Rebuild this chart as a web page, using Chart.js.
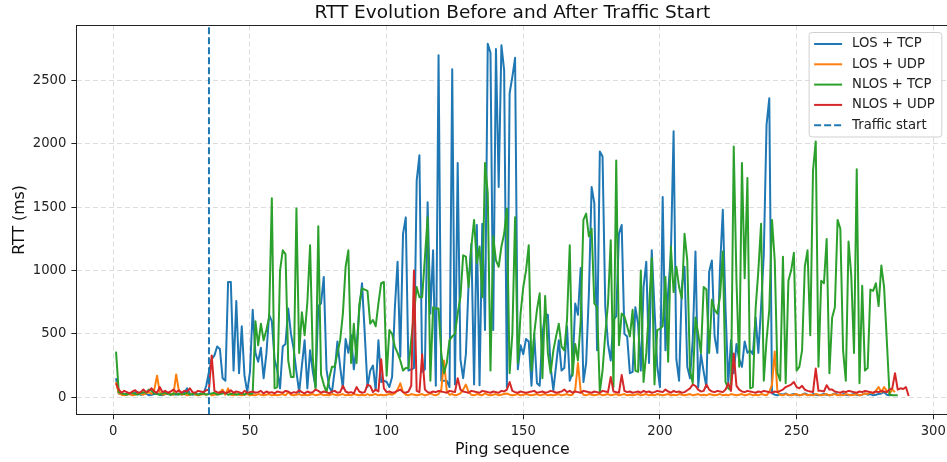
<!DOCTYPE html>
<html>
<head>
<meta charset="utf-8">
<title>RTT Evolution</title>
<script src="https://cdn.jsdelivr.net/npm/chart.js@4.4.1/dist/chart.umd.min.js"></script>
<style>
  html, body { margin: 0; padding: 0; background: #ffffff; }
  #wrap { width: 947px; height: 462px; overflow: hidden; }
</style>
</head>
<body>
<div id="wrap"><canvas id="rttChart" width="952" height="462"></canvas></div>
<script>
// Axis ticks and the ping where traffic was switched on
const xTicks = [0, 50, 100, 150, 200, 250, 300];
const yTicks = [0, 500, 1000, 1500, 2000, 2500];
const trafficStart = 35;

// RTT per ping (ms), ping sequence starts at 1
const losTcp = [
  150, 30, 25, 20, 30, 25, 20, 35, 40, 20,
  25, 30, 15, 20, 25, 30, 20, 15, 25, 30,
  20, 25, 20, 30, 20, 35, 70, 30, 20, 25,
  20, 30, 25, 90, 200, 300, 330, 400, 380, 150,
  130, 910, 910, 210, 760, 190, 560, 170, 40, 200,
  690, 350, 280, 390, 150, 340, 650, 600, 300, 210,
  70, 400, 420, 700, 500, 380, 200, 40, 250, 450,
  70, 370, 200, 80, 720, 740, 950, 220, 80, 40,
  210, 440, 240, 70, 460, 350, 490, 220, 400, 690,
  900, 500, 80, 210, 250, 55, 450, 120, 130, 120,
  80, 160, 700, 1070, 320, 1290, 1420, 210, 220, 230,
  1710, 1910, 200, 220, 1540, 660, 1160, 90, 2700, 130,
  130, 130, 80, 2590, 100, 1850, 300, 150, 340, 900,
  1210, 100, 1360, 95, 1370, 530, 2790, 2720, 530, 2750,
  1660, 2780, 2580, 80, 2400, 2530, 2680, 220, 410, 340,
  460, 440, 90, 500, 110, 90, 500, 660, 650, 240,
  55, 250, 450, 210, 230, 560, 130, 190, 740, 650,
  1020, 120, 270, 820, 1660, 1530, 370, 1940, 1900, 710,
  420, 290, 610, 640, 1290, 1360, 500, 480, 190, 200,
  710, 580, 210, 870, 1070, 270, 1160, 700, 250, 80,
  1580, 370, 830, 1130, 2100, 300, 130, 870, 1030, 240,
  150, 450, 1150, 80, 340, 200, 80, 990, 1080, 480,
  350, 1030, 1480, 690, 110, 450, 190, 420, 300, 240,
  440, 350, 370, 340, 630, 350, 710, 1130, 2150, 2360,
  30, 20, 15, 25, 20, 30, 15, 20, 25, 20,
  15, 20, 30, 20, 15, 25, 20, 15, 20, 25,
  20, 15, 20, 30, 20, 15, 25, 20, 15, 20,
  25, 20, 15, 20, 30, 20, 25, 15, 20, 25,
  30, 40, 20, 15, 20
];

const losUdp = [
  120, 30, 20, 15, 20, 25, 15, 20, 30, 25,
  20, 30, 40, 25, 60, 170, 40, 20, 25, 30,
  25, 20, 180, 50, 20, 25, 15, 20, 30, 20,
  15, 20, 25, 20, 30, 15, 20, 25, 40, 60,
  20, 70, 20, 15, 25, 20, 15, 20, 25, 15,
  20, 15, 25, 20, 15, 20, 25, 15, 20, 15,
  20, 25, 15, 40, 20, 15, 20, 25, 15, 20,
  15, 20, 25, 15, 20, 25, 15, 20, 15, 25,
  20, 15, 20, 25, 15, 20, 15, 25, 20, 15,
  20, 15, 25, 15, 20, 25, 15, 20, 15, 20,
  25, 20, 30, 60, 110, 40, 20, 15, 25, 20,
  15, 20, 25, 15, 20, 30, 20, 15, 25, 60,
  290, 50, 20, 25, 15, 20, 30, 60, 100, 40,
  20, 15, 25, 20, 15, 30, 20, 15, 20, 25,
  15, 20, 25, 30, 20, 15, 20, 25, 15, 20,
  25, 20, 15, 20, 25, 15, 20, 25, 15, 20,
  15, 20, 25, 15, 20, 25, 15, 20, 60, 270,
  50, 20, 15, 25, 20, 15, 20, 25, 15, 20,
  25, 15, 20, 25, 15, 20, 25, 15, 20, 15,
  20, 25, 15, 20, 25, 15, 20, 15, 25, 20,
  15, 20, 25, 15, 20, 15, 25, 20, 15, 20,
  25, 15, 20, 25, 15, 20, 15, 25, 20, 15,
  20, 25, 15, 20, 15, 25, 20, 15, 20, 25,
  15, 20, 25, 15, 20, 15, 25, 20, 15, 40,
  100, 360, 40, 20, 15, 25, 20, 15, 20, 25,
  15, 20, 25, 15, 20, 15, 25, 20, 15, 20,
  25, 15, 20, 25, 15, 20, 15, 25, 20, 15,
  20, 25, 15, 20, 30, 25, 40, 30, 50, 80,
  40, 80, 50, 30, 60, 40
];

const nlosTcp = [
  360, 40, 30, 25, 20, 30, 35, 25, 20, 30,
  40, 35, 60, 50, 30, 25, 20, 30, 35, 25,
  20, 30, 25, 20, 30, 25, 35, 20, 25, 30,
  20, 25, 30, 20, 25, 30, 35, 20, 25, 30,
  35, 20, 25, 30, 20, 25, 30, 20, 35, 25,
  30, 600, 410, 580, 450, 530, 630, 1570, 70, 80,
  1000, 1160, 1130, 290, 160, 160, 1490, 350, 670, 490,
  750, 1200, 300, 70, 1350, 180, 100, 40, 150, 240,
  240, 350, 450, 660, 1030, 1160, 270, 580, 270, 730,
  860, 850, 840, 580, 610, 560, 740, 900, 910, 170,
  530, 500, 400, 350, 290, 210, 230, 230, 450, 660,
  870, 790, 790, 1100, 1420, 130, 710, 700, 700, 345,
  190, 270, 450, 480, 500, 660, 790, 1120, 1110, 870,
  1190, 1400, 1060, 1190, 790, 1850, 1610, 210, 1270, 1080,
  1030, 1190, 1290, 1490, 190, 500, 1420, 270, 660, 870,
  1000, 1200, 210, 500, 690, 820, 150, 800, 350, 190,
  370, 480, 580, 400, 370, 610, 1200, 170, 420, 290,
  600, 1400, 1450, 1270, 1330, 740, 710, 40, 210, 500,
  740, 1240, 80, 1870, 410, 660, 640, 560, 480, 690,
  210, 200, 1000, 120, 350, 700, 1100, 100, 530, 540,
  560, 950, 280, 1190, 830, 1030, 870, 780, 1290, 1080,
  210, 110, 630, 500, 350, 870, 850, 350, 770, 690,
  660, 800, 1150, 120, 70, 55, 1980, 920, 240, 1850,
  940, 1730, 70, 80, 700, 1000, 1370, 130, 450, 690,
  1400, 1080, 190, 130, 1110, 110, 920, 1000, 1140, 210,
  240, 370, 1030, 1160, 490, 1790, 2020, 240, 920, 900,
  1250, 190, 630, 710, 1400, 1330, 370, 130, 1230, 960,
  350, 1800, 110, 880, 210, 230, 850, 840, 900, 720,
  1040, 870, 450, 20, 15, 15, 15
];

const nlosUdp = [
  110, 60, 35, 50, 40, 30, 45, 55, 35, 40,
  60, 40, 50, 70, 45, 35, 80, 40, 50, 35,
  45, 60, 40, 55, 35, 50, 45, 70, 40, 35,
  50, 45, 40, 55, 60, 330, 50, 40, 35, 45,
  30, 40, 55, 35, 45, 40, 30, 50, 35, 40,
  45, 35, 40, 50, 30, 45, 35, 40, 30, 45,
  40, 35, 50, 45, 30, 40, 35, 55, 40, 30,
  45, 35, 40, 60, 50, 35, 45, 40, 30, 45,
  50, 35, 40, 90, 45, 35, 40, 30, 80, 45,
  35, 40, 100, 90, 40, 60, 45, 300, 70, 40,
  45, 35, 40, 50, 60, 40, 35, 45, 90, 1000,
  50, 40, 340, 60, 40, 35, 45, 40, 50, 45,
  40, 35, 50, 45, 40, 150, 60, 45, 40, 35,
  50, 45, 40, 35, 50, 45, 40, 35, 45, 40,
  35, 50, 45, 60, 120, 50, 40, 35, 45, 40,
  35, 40, 45, 50, 35, 40, 45, 35, 40, 50,
  45, 35, 40, 45, 60, 40, 50, 35, 45, 40,
  35, 50, 45, 40, 35, 45, 40, 35, 50, 45,
  40, 160, 45, 40, 35, 175, 50, 40, 45, 35,
  40, 45, 35, 50, 40, 45, 35, 40, 50, 45,
  40, 60, 45, 35, 50, 40, 45, 35, 40, 55,
  70, 100, 90, 60, 45, 50, 100, 60, 45, 40,
  50, 45, 40, 60, 110, 50, 345, 90, 60, 45,
  40, 50, 45, 40, 35, 45, 40, 50, 45, 40,
  35, 45, 40, 50, 60, 80, 90, 100, 120, 80,
  70, 90, 60, 50, 45, 40, 226, 50, 50, 45,
  95, 60, 60, 45, 40, 35, 45, 40, 50, 45,
  40, 35, 45, 40, 50, 45, 40, 35, 45, 40,
  50, 45, 40, 60, 70, 190, 60, 70, 65, 80,
  10
];

const xRange = [-13.5, 305.5];
const yRange = [-135, 2935];

const FONT = 'DejaVu Sans';

function toPoints(values) {
  return values.map((v, i) => ({ x: i + 1, y: v }));
}

function fixedTicks(values) {
  return function (axis) {
    axis.ticks = values.map(v => ({ value: v }));
  };
}

// top spine (left/bottom come from the axis borders)
const frame = {
  id: 'frame',
  afterDatasetsDraw(chart) {
    const { ctx, chartArea: a } = chart;
    ctx.save();
    ctx.strokeStyle = '#222';
    ctx.lineWidth = 1;
    ctx.beginPath();
    ctx.moveTo(a.left, a.top);
    ctx.lineTo(a.right + 10, a.top);
    ctx.stroke();
    ctx.restore();
  }
};

// boxed legend in the upper right corner of the plot
const innerLegend = {
  id: 'innerLegend',
  afterDraw(chart) {
    const { ctx, chartArea: a } = chart;
    const items = chart.data.datasets.map(ds => ({
      label: ds.label, color: ds.borderColor, dash: ds.borderDash || []
    }));
    ctx.save();
    ctx.font = '13.2px "' + FONT + '"';
    let textW = 0;
    items.forEach(it => { textW = Math.max(textW, ctx.measureText(it.label).width); });
    const rowH = 20.3;
    const w = textW + 50;
    const h = items.length * rowH + 3;
    const x = a.right - 6.5 - w;
    const y = a.top + 7;
    ctx.beginPath();
    ctx.roundRect(x, y, w, h, 3);
    ctx.fillStyle = 'rgba(255,255,255,0.8)';
    ctx.fill();
    ctx.strokeStyle = '#d0d0d0';
    ctx.lineWidth = 1;
    ctx.stroke();
    items.forEach((it, i) => {
      const cy = y + 11.5 + i * rowH;
      ctx.beginPath();
      ctx.setLineDash(it.dash);
      ctx.strokeStyle = it.color;
      ctx.lineWidth = 2;
      ctx.moveTo(x + 5, cy);
      ctx.lineTo(x + 33, cy);
      ctx.stroke();
      ctx.setLineDash([]);
      ctx.fillStyle = '#222';
      ctx.textBaseline = 'middle';
      ctx.textAlign = 'left';
      ctx.fillText(it.label, x + 43, cy);
    });
    ctx.restore();
  }
};

function series(label, values, color, order) {
  return {
    label: label,
    data: toPoints(values),
    borderColor: color,
    backgroundColor: color,
    borderWidth: 2,
    pointRadius: 0,
    tension: 0,
    borderJoinStyle: 'round',
    order: order
  };
}

const ctx = document.getElementById('rttChart').getContext('2d');
const rttChart = new Chart(ctx, {
  type: 'line',
  data: {
    datasets: [
      series('LOS + TCP', losTcp, '#1f77b4', 4),
      series('LOS + UDP', losUdp, '#ff7f0e', 3),
      series('NLOS + TCP', nlosTcp, '#2ca02c', 2),
      series('NLOS + UDP', nlosUdp, '#d62728', 1),
      {
        label: 'Traffic start',
        data: [{ x: trafficStart, y: yRange[0] }, { x: trafficStart, y: yRange[1] }],
        borderColor: '#1f77b4',
        borderWidth: 2,
        borderDash: [7, 3],
        pointRadius: 0,
        order: 0
      }
    ]
  },
  options: {
    responsive: false,
    animation: false,
    devicePixelRatio: 1,
    layout: { padding: { left: 0, right: 3.7, top: 0, bottom: 0 } },
    plugins: {
      legend: { display: false },
      tooltip: { enabled: false },
      title: {
        display: true,
        text: 'RTT Evolution Before and After Traffic Start',
        fullSize: false,
        color: '#111',
        font: { family: FONT, size: 18.5, weight: 'normal' },
        padding: { top: 2, bottom: 1.3 }
      }
    },
    scales: {
      x: {
        type: 'linear',
        min: xRange[0],
        max: xRange[1],
        afterBuildTicks: fixedTicks(xTicks),
        afterFit(scale) { scale.height = 47.7; },
        grid: {
          color: '#dcdcdc',
          lineWidth: 1,
          tickLength: 5,
          tickColor: '#222',
          tickWidth: 1
        },
        border: { display: true, color: '#222', width: 1, dash: [5, 3] },
        ticks: {
          color: '#222',
          padding: 4,
          maxRotation: 0,
          autoSkip: false,
          font: { family: FONT, size: 13.2 },
          callback: v => String(v)
        },
        title: {
          display: true,
          text: 'Ping sequence',
          color: '#111',
          font: { family: FONT, size: 15.8 },
          padding: { top: 0, bottom: 3 }
        }
      },
      y: {
        type: 'linear',
        min: yRange[0],
        max: yRange[1],
        afterBuildTicks: fixedTicks(yTicks),
        afterFit(scale) { scale.width = 76.4; },
        grid: {
          color: '#dcdcdc',
          lineWidth: 1,
          tickLength: 5,
          tickColor: '#222',
          tickWidth: 1
        },
        border: { display: true, color: '#222', width: 1, dash: [5, 3] },
        ticks: {
          color: '#222',
          padding: 5,
          autoSkip: false,
          font: { family: FONT, size: 13.2 },
          callback: v => String(v)
        },
        title: {
          display: true,
          text: 'RTT (ms)',
          color: '#111',
          font: { family: FONT, size: 15.8 },
          padding: { top: 10.5, bottom: 0 }
        }
      }
    }
  },
  plugins: [frame, innerLegend]
});
</script>
</body>
</html>
